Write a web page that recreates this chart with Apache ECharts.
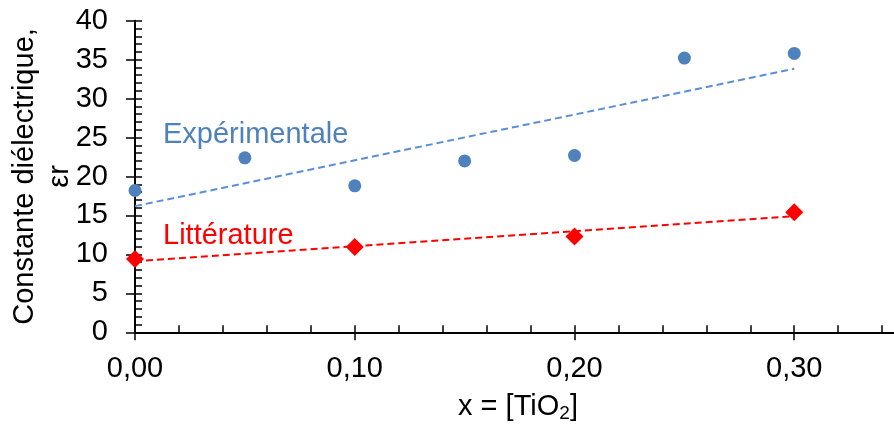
<!DOCTYPE html>
<html><head><meta charset="utf-8">
<script src="https://cdn.jsdelivr.net/npm/echarts@6/dist/echarts.min.js"></script>
<style>html,body{margin:0;padding:0;background:#fff}#c{width:894px;height:425px}</style>
</head><body><div id="c"></div>
<script>
// Data
const expX = [0.00, 0.05, 0.10, 0.15, 0.20, 0.25, 0.30];
const expY = [18.2, 22.4, 18.8, 22.0, 22.7, 35.2, 35.8];
const litX = [0.00, 0.10, 0.20, 0.30];
const litY = [9.4, 10.95, 12.3, 15.4];
const seriesNames = ['Expérimentale', 'Littérature'];
const xTitle = 'x = [TiO{sub|2}]';
const yTitle = 'Constante diélectrique,\nεr';

function linFit(xs, ys) {
  const n = xs.length;
  const mx = xs.reduce((a, b) => a + b, 0) / n;
  const my = ys.reduce((a, b) => a + b, 0) / n;
  let sxy = 0, sxx = 0;
  for (let i = 0; i < n; i++) { sxy += (xs[i] - mx) * (ys[i] - my); sxx += (xs[i] - mx) ** 2; }
  const m = sxy / sxx, b = my - m * mx;
  const x0 = Math.min(...xs), x1 = Math.max(...xs);
  return [[x0, b + m * x0], [x1, b + m * x1]];
}
const zip = (a, b) => a.map((v, i) => [v, b[i]]);

const FONT = 'Liberation Sans, Arial, sans-serif';
const FS = 29;
const BLUE = '#4F81BD', BLUE_T = '#5A8FD8', RED = '#FF0000';
const gridBox = { left: 135, top: 20.7, right: -120, bottom: 92.7, containLabel: false, outerBoundsMode: 'none' };

const chart = echarts.init(document.getElementById('c'), null, { renderer: 'canvas' });
chart.setOption({
  animation: false,
  backgroundColor: '#fff',
  grid: [Object.assign({}, gridBox), Object.assign({}, gridBox)],
  xAxis: [{
    type: 'value', gridIndex: 0, min: 0, max: 0.4, interval: 0.1,
    axisLine: { lineStyle: { color: '#000', width: 2 } },
    axisTick: { show: true, inside: true, length: 7, lineStyle: { color: '#000', width: 1.5 } },
    minorTick: { show: true, splitNumber: 5, length: 7, lineStyle: { color: '#000', width: 1.5 } },
    splitLine: { show: false },
    axisLabel: { fontFamily: FONT, fontSize: FS, color: '#000', margin: 22,
      formatter: v => v.toFixed(2).replace('.', ',') },
    name: xTitle, nameLocation: 'middle', nameGap: 58, nameMoveOverlap: false,
    nameTextStyle: { fontFamily: FONT, fontSize: FS, color: '#000', padding: [0, 113, 0, 0],
      rich: { sub: { fontFamily: FONT, fontSize: 19, color: '#000', verticalAlign: 'bottom', padding: [14, 0, 0, 0] } } }
  }, {
    type: 'value', gridIndex: 1, min: 0, max: 0.4, interval: 0.1,
    axisLine: { show: false }, axisLabel: { show: false }, splitLine: { show: false },
    axisTick: { show: true, inside: false, length: 8, lineStyle: { color: '#000', width: 1.5 } }
  }],
  yAxis: [{
    type: 'value', gridIndex: 0, min: 0, max: 40, interval: 5,
    axisLine: { show: true, lineStyle: { color: '#000', width: 2 } },
    axisTick: { show: true, inside: true, length: 7, lineStyle: { color: '#000', width: 1.5 } },
    minorTick: { show: true, splitNumber: 5, length: 7, lineStyle: { color: '#000', width: 1.5 } },
    splitLine: { show: false },
    axisLabel: { fontFamily: FONT, fontSize: FS, color: '#000', margin: 27 },
    name: yTitle, nameLocation: 'middle', nameRotate: 90, nameGap: 58, nameMoveOverlap: false,
    nameTextStyle: { fontFamily: FONT, fontSize: FS, color: '#000', lineHeight: 35 }
  }, {
    type: 'value', gridIndex: 1, min: 0, max: 40, interval: 5,
    axisLine: { show: false }, axisLabel: { show: false }, splitLine: { show: false },
    axisTick: { show: true, inside: false, length: 9, lineStyle: { color: '#000', width: 1.5 } }
  }],
  series: [
    { name: seriesNames[0], type: 'scatter', xAxisIndex: 0, yAxisIndex: 0, data: zip(expX, expY),
      symbol: 'circle', symbolSize: 13, itemStyle: { color: BLUE, opacity: 1 }, z: 3 },
    { name: seriesNames[1], type: 'scatter', xAxisIndex: 0, yAxisIndex: 0, data: zip(litX, litY),
      symbol: 'diamond', symbolSize: 18, itemStyle: { color: RED, opacity: 1 }, z: 3 },
    { type: 'line', xAxisIndex: 0, yAxisIndex: 0, data: linFit(expX, expY), symbol: 'none',
      lineStyle: { color: BLUE_T, width: 2, type: [7, 4] }, z: 4, silent: true },
    { type: 'line', xAxisIndex: 0, yAxisIndex: 0, data: linFit(litX, litY), symbol: 'none',
      lineStyle: { color: RED, width: 2, type: [7, 4] }, z: 4, silent: true }
  ],
  graphic: [
    { type: 'text', left: 163, top: 120, style: { text: seriesNames[0], fontFamily: FONT, fontSize: FS, fill: BLUE } },
    { type: 'text', left: 163, top: 221.5, style: { text: seriesNames[1], fontFamily: FONT, fontSize: FS, fill: RED } }
  ]
});
</script></body></html>
